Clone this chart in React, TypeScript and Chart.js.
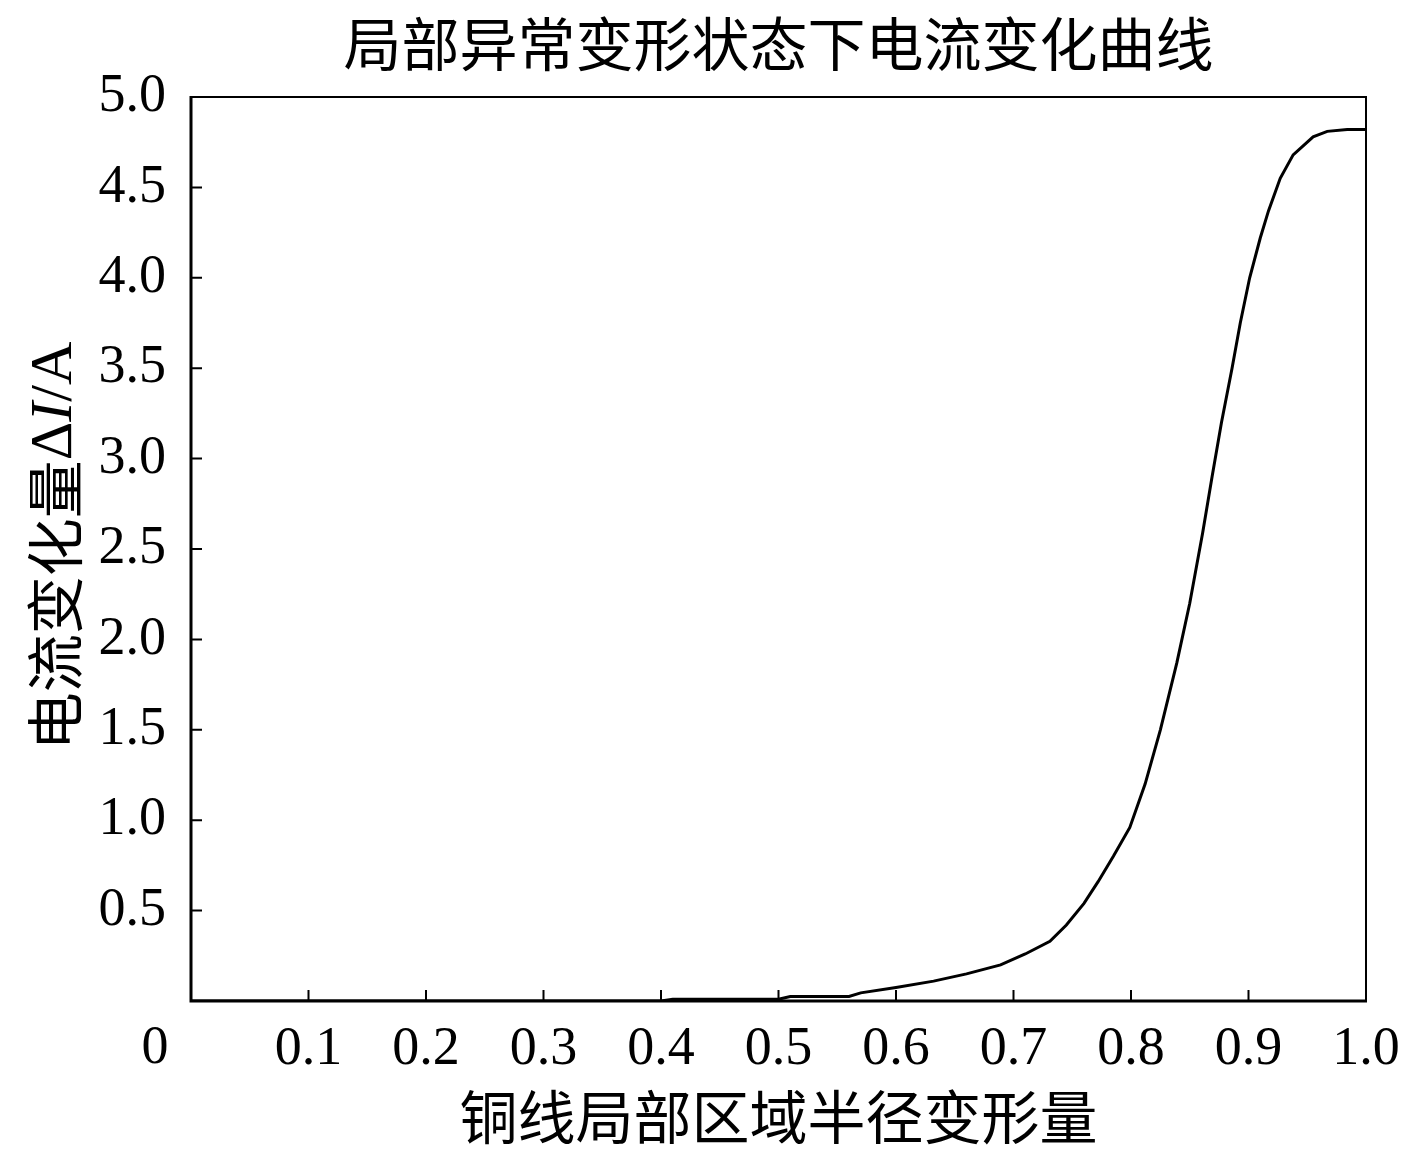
import React, { useEffect, useRef } from "react";
import { Chart, registerables } from "chart.js";

Chart.register(...registerables);

const titleText = "局部异常变形状态下电流变化曲线";
const xTitleText = "铜线局部区域半径变形量";
const yTitleCn = "电流变化量";
const originLabel = "0";

const deformation = [
  0, 0.1, 0.2, 0.3, 0.4, 0.41, 0.5, 0.51, 0.56, 0.57, 0.6, 0.632, 0.66, 0.689,
  0.71, 0.731, 0.745, 0.76, 0.772, 0.785, 0.799, 0.812, 0.825, 0.839, 0.85,
  0.861, 0.869, 0.877, 0.886, 0.893, 0.901, 0.91, 0.917, 0.927, 0.938, 0.955,
  0.967, 0.984, 1.0,
];
const currentDelta = [
  0, 0, 0, 0, 0, 0.01, 0.01, 0.025, 0.025, 0.045, 0.075, 0.11, 0.15, 0.2, 0.26,
  0.33, 0.42, 0.54, 0.66, 0.8, 0.96, 1.2, 1.5, 1.87, 2.2, 2.59, 2.9, 3.2, 3.5,
  3.75, 4.0, 4.22, 4.37, 4.55, 4.68, 4.78, 4.81, 4.82, 4.82,
];

const SERIF = '"Liberation Serif", "Noto Sans CJK SC", serif';
const CJK = '"Noto Sans CJK SC", "Liberation Serif", sans-serif';
const W = 1417;
const H = 1157;

const framePlugin = {
  id: "frame",
  afterDraw(chart: any) {
    const { ctx, chartArea } = chart;
    const { left, right, top, bottom } = chartArea;
    const xs = chart.scales.x;
    const ys = chart.scales.y;
    ctx.save();
    ctx.strokeStyle = "#000";
    // top & right thin
    ctx.lineWidth = 2;
    ctx.beginPath();
    ctx.moveTo(left, top);
    ctx.lineTo(right, top);
    ctx.lineTo(right, bottom);
    ctx.stroke();
    // left & bottom thick
    ctx.lineWidth = 3;
    ctx.beginPath();
    ctx.moveTo(left, top - 1);
    ctx.lineTo(left, bottom);
    ctx.lineTo(right + 1, bottom);
    ctx.stroke();
    // inside ticks
    ctx.lineWidth = 2;
    ctx.beginPath();
    xs.ticks.forEach((t: any) => {
      if (t.value <= 0 || t.value >= 1) return;
      const px = xs.getPixelForValue(t.value);
      ctx.moveTo(px, bottom);
      ctx.lineTo(px, bottom - 11);
    });
    ys.ticks.forEach((t: any) => {
      if (t.value <= 0 || t.value >= 5) return;
      const py = ys.getPixelForValue(t.value);
      ctx.moveTo(left, py);
      ctx.lineTo(left + 11, py);
    });
    ctx.stroke();

    // title
    ctx.fillStyle = "#000";
    ctx.textAlign = "center";
    ctx.textBaseline = "middle";
    ctx.font = `58px ${CJK}`;
    ctx.fillText(titleText, (left + right) / 2, 44);
    // x title
    ctx.fillText(xTitleText, (left + right) / 2, 1117);
    // origin label
    ctx.font = `54px ${SERIF}`;
    ctx.textBaseline = "alphabetic";
    ctx.fillText(originLabel, 155, 1063);

    // y title, rotated
    const parts = [
      { t: yTitleCn, f: `58px ${CJK}` },
      { t: "Δ", f: `60px ${SERIF}` },
      { t: "I", f: `italic 60px ${SERIF}` },
      { t: "/A", f: `60px ${SERIF}` },
    ];
    let total = 0;
    const widths = parts.map((p) => {
      ctx.font = p.f;
      const w = ctx.measureText(p.t).width;
      total += w;
      return w;
    });
    ctx.translate(55, 546);
    ctx.rotate(-Math.PI / 2);
    ctx.textAlign = "left";
    ctx.textBaseline = "middle";
    let cx = -total / 2;
    parts.forEach((p, i) => {
      ctx.font = p.f;
      ctx.fillText(p.t, cx, 0);
      cx += widths[i];
    });
    ctx.restore();
  },
};

export default function App() {
  const ref = useRef<HTMLCanvasElement | null>(null);
  useEffect(() => {
    if (!ref.current) return;
    const points = deformation.map((x, i) => ({ x, y: currentDelta[i] }));
    const chart = new Chart(ref.current, {
      type: "line",
      data: {
        datasets: [
          {
            data: points,
            borderColor: "#000",
            borderWidth: 3,
            pointRadius: 0,
            tension: 0,
            fill: false,
          },
        ],
      },
      options: {
        animation: false,
        responsive: false,
        devicePixelRatio: 1,
        layout: { padding: { top: 97, right: 51, left: 0, bottom: 0 } },
        plugins: {
          legend: { display: false },
          title: { display: false },
          tooltip: { enabled: false },
        },
        scales: {
          x: {
            type: "linear",
            min: 0,
            max: 1,
            grid: { display: false, drawTicks: false },
            border: { display: false },
            ticks: {
              stepSize: 0.1,
              color: "#000",
              font: { family: SERIF, size: 54 },
              padding: 16,
              maxRotation: 0,
              autoSkip: false,
              callback: (v: any) => (Math.abs(v) < 1e-9 ? "" : Number(v).toFixed(1)),
            },
            afterFit: (s: any) => {
              s.height = 156;
            },
          },
          y: {
            type: "linear",
            min: 0,
            max: 5,
            grid: { display: false, drawTicks: false },
            border: { display: false },
            ticks: {
              stepSize: 0.5,
              color: "#000",
              font: { family: SERIF, size: 54 },
              padding: 25,
              autoSkip: false,
              callback: (v: any) => (Math.abs(v) < 1e-9 ? "" : Number(v).toFixed(1)),
            },
            afterFit: (s: any) => {
              s.width = 191;
            },
          },
        },
      },
      plugins: [framePlugin],
    });
    return () => chart.destroy();
  }, []);
  return (
    <div style={{ position: "fixed", left: 0, top: 0, width: W, height: H, background: "#fff" }}>
      <canvas ref={ref} width={W} height={H} style={{ width: W, height: H, display: "block" }} />
    </div>
  );
}
